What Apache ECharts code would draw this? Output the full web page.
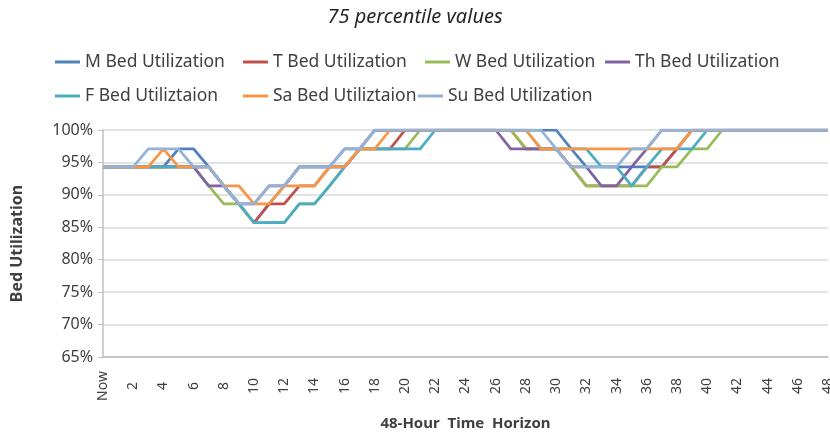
<!DOCTYPE html>
<html>
<head>
<meta charset="utf-8">
<script src="https://cdn.jsdelivr.net/npm/echarts@6/dist/echarts.min.js"></script>
<style>
  html, body { margin: 0; padding: 0; background: #fff; }
  #chart { width: 830px; height: 435px; }
</style>
</head>
<body>
<div id="chart"></div>
<script>
// hours on the horizon (labels shown every 2 hours)
const hours = ["Now", "1", "2", "3", "4", "5", "6", "7", "8", "9",
  "10", "11", "12", "13", "14", "15", "16", "17", "18", "19",
  "20", "21", "22", "23", "24", "25", "26", "27", "28", "29",
  "30", "31", "32", "33", "34", "35", "36", "37", "38", "39",
  "40", "41", "42", "43", "44", "45", "46", "47", "48"];

const seriesNames = ["M Bed Utilization", "T Bed Utilization", "W Bed Utilization", "Th Bed Utilization",
  "F Bed Utiliztaion", "Sa Bed Utiliztaion", "Su Bed Utilization"];

const colors = ["#4f81bd", "#c0504d", "#9bbb59", "#8064a2", "#4bacc6", "#f79646", "#95b3d7"];

// 75th percentile bed utilization (%) per hour
const mon = [94.3, 94.3, 94.3, 94.3, 94.3, 97.1, 97.1, 94.3, 91.4, 88.6,
  85.7, 88.6, 91.4, 94.3, 94.3, 94.3, 97.1, 97.1, 100, 100,
  100, 100, 100, 100, 100, 100, 100, 100, 100, 100,
  100, 97.1, 94.3, 94.3, 94.3, 94.3, 94.3, 94.3, 97.1, 100,
  100, 100, 100, 100, 100, 100, 100, 100, 100];
const tue = [94.3, 94.3, 94.3, 94.3, 94.3, 94.3, 94.3, 94.3, 91.4, 88.6,
  85.7, 88.6, 88.6, 91.4, 91.4, 94.3, 94.3, 97.1, 97.1, 97.1,
  100, 100, 100, 100, 100, 100, 100, 100, 97.1, 97.1,
  97.1, 94.3, 91.4, 91.4, 91.4, 91.4, 94.3, 94.3, 97.1, 100,
  100, 100, 100, 100, 100, 100, 100, 100, 100];
const wed = [94.3, 94.3, 94.3, 94.3, 94.3, 94.3, 94.3, 91.4, 88.6, 88.6,
  85.7, 85.7, 85.7, 88.6, 88.6, 91.4, 94.3, 97.1, 97.1, 97.1,
  97.1, 100, 100, 100, 100, 100, 100, 100, 97.1, 97.1,
  97.1, 94.3, 91.4, 91.4, 91.4, 91.4, 91.4, 94.3, 94.3, 97.1,
  97.1, 100, 100, 100, 100, 100, 100, 100, 100];
const thu = [94.3, 94.3, 94.3, 94.3, 94.3, 94.3, 94.3, 91.4, 91.4, 88.6,
  88.6, 91.4, 91.4, 94.3, 94.3, 94.3, 94.3, 97.1, 100, 100,
  100, 100, 100, 100, 100, 100, 100, 97.1, 97.1, 97.1,
  97.1, 94.3, 94.3, 91.4, 91.4, 94.3, 97.1, 100, 100, 100,
  100, 100, 100, 100, 100, 100, 100, 100, 100];
const fri = [94.3, 94.3, 94.3, 94.3, 94.3, 94.3, 94.3, 94.3, 91.4, 88.6,
  85.7, 85.7, 85.7, 88.6, 88.6, 91.4, 94.3, 97.1, 97.1, 97.1,
  97.1, 97.1, 100, 100, 100, 100, 100, 100, 100, 97.1,
  97.1, 97.1, 97.1, 94.3, 94.3, 91.4, 94.3, 97.1, 97.1, 97.1,
  100, 100, 100, 100, 100, 100, 100, 100, 100];
const sat = [94.3, 94.3, 94.3, 94.3, 97.1, 94.3, 94.3, 94.3, 91.4, 91.4,
  88.6, 88.6, 91.4, 91.4, 91.4, 94.3, 94.3, 97.1, 97.1, 100,
  100, 100, 100, 100, 100, 100, 100, 100, 100, 97.1,
  97.1, 97.1, 97.1, 97.1, 97.1, 97.1, 97.1, 97.1, 97.1, 100,
  100, 100, 100, 100, 100, 100, 100, 100, 100];
const sun = [94.3, 94.3, 94.3, 97.1, 97.1, 97.1, 94.3, 94.3, 91.4, 88.6,
  88.6, 91.4, 91.4, 94.3, 94.3, 94.3, 97.1, 97.1, 100, 100,
  100, 100, 100, 100, 100, 100, 100, 100, 100, 100,
  97.1, 94.3, 94.3, 94.3, 94.3, 97.1, 97.1, 100, 100, 100,
  100, 100, 100, 100, 100, 100, 100, 100, 100];

const allData = [mon, tue, wed, thu, fri, sat, sun];

// legend slots (left x, top y) to mimic the two-row legend
const legendPos = [[50, 48], [238, 48], [420, 48], [600, 48], [50, 82], [238, 82], [413, 82]];

const FONT = "'Noto Sans', sans-serif";
const TXT = "#404040";

const chart = echarts.init(document.getElementById("chart"));

const option = {
  animation: false,
  backgroundColor: "#fff",
  color: colors,
  title: {
    text: "75 percentile values",
    left: "center",
    top: 2,
    textStyle: { fontFamily: FONT, fontSize: 20, fontStyle: "italic", fontWeight: "normal", color: "#262626" }
  },
  legend: seriesNames.map((n, i) => ({
    data: [n],
    left: legendPos[i][0],
    top: legendPos[i][1],
    icon: "rect",
    itemWidth: 25,
    itemHeight: 3,
    itemGap: 5,
    selectedMode: false,
    textStyle: { fontFamily: FONT, fontSize: 17.5, color: TXT }
  })),
  grid: {
    left: 103,
    right: 2,
    top: 130,
    bottom: 78,
    outerBoundsMode: "none"
  },
  xAxis: {
    type: "category",
    data: hours,
    boundaryGap: false,
    name: "48-Hour  Time  Horizon",
    nameLocation: "middle",
    nameGap: 59,
    nameTextStyle: { fontFamily: FONT, fontSize: 15, fontWeight: "bold", color: TXT },
    axisLine: { lineStyle: { color: "#bfbfbf", width: 1.5 } },
    axisTick: { show: false },
    axisLabel: {
      interval: 1,
      rotate: 90,
      align: "center",
      verticalAlign: "middle",
      margin: 29,
      fontFamily: FONT,
      fontSize: 14,
      color: TXT
    },
    splitLine: { show: false }
  },
  yAxis: {
    type: "value",
    min: 65,
    max: 100,
    interval: 5,
    name: "Bed Utilization",
    nameLocation: "middle",
    nameRotate: 90,
    nameGap: 78,
    nameTextStyle: { fontFamily: FONT, fontSize: 16, fontWeight: "bold", color: TXT },
    axisLine: { show: true, lineStyle: { color: "#bfbfbf", width: 1.5 } },
    axisTick: { show: true, length: 5, lineStyle: { color: "#bfbfbf" } },
    axisLabel: {
      formatter: "{value}%",
      margin: 10,
      fontFamily: FONT,
      fontSize: 16,
      color: TXT
    },
    splitLine: { lineStyle: { color: "#d9d9d9", width: 1.5 } }
  },
  series: seriesNames.map((n, i) => ({
    name: n,
    type: "line",
    data: allData[i],
    symbol: "none",
    lineStyle: { width: 2.75, color: colors[i], join: "round" },
    itemStyle: { color: colors[i] }
  }))
};

chart.setOption(option);
</script>
</body>
</html>
